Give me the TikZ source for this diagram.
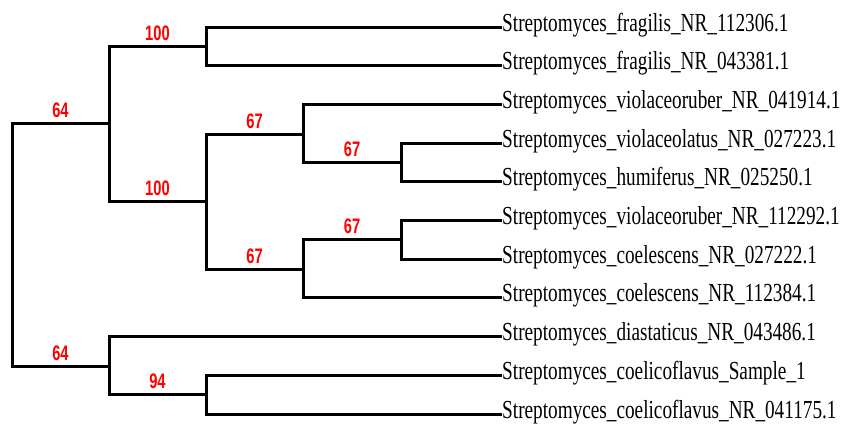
\documentclass[tikz,border=0pt]{standalone}
\usepackage{fontspec}
\newfontfamily\leaffont[FakeStretch=0.74]{Liberation Serif}
\newfontfamily\lblfont[FakeStretch=0.70]{Liberation Sans}
\begin{document}
\begin{tikzpicture}[x=1pt,y=-1pt,
  branch/.style={line width=3pt, line join=miter, line cap=rect, black},
  lbl/.style={font=\lblfont\bfseries\fontsize{21}{21}\selectfont, text=red, inner sep=0pt, anchor=base, yshift=6pt},
  leaf/.style={font=\leaffont\fontsize{26}{26}\selectfont, inner sep=0pt, anchor=base west}]
\useasboundingbox (0,0) rectangle (846,426);
% internal nodes
\coordinate (R)  at (12,244.75);
\coordinate (A)  at (109,123.5);
\coordinate (B)  at (109,366);
\coordinate (A1) at (206,46.35);
\coordinate (A2) at (206,201.5);
\coordinate (Aa) at (303,134);
\coordinate (Ab) at (303,269);
\coordinate (N45) at (401,162.45);
\coordinate (N67) at (401,239.85);
\coordinate (N1011) at (206,394.65);
% leaves
\foreach \i/\t in {1/Streptomyces\_fragilis\_NR\_112306.1,
                   2/Streptomyces\_fragilis\_NR\_043381.1,
                   3/Streptomyces\_violaceoruber\_NR\_041914.1,
                   4/Streptomyces\_violaceolatus\_NR\_027223.1,
                   5/Streptomyces\_humiferus\_NR\_025250.1,
                   6/Streptomyces\_violaceoruber\_NR\_112292.1,
                   7/Streptomyces\_coelescens\_NR\_027222.1,
                   8/Streptomyces\_coelescens\_NR\_112384.1,
                   9/Streptomyces\_diastaticus\_NR\_043486.1,
                   10/Streptomyces\_coelicoflavus\_Sample\_1,
                   11/Streptomyces\_coelicoflavus\_NR\_041175.1}{
  \coordinate (L\i) at (500,{27+38.7*(\i-1)});
  \node[leaf] (T\i) at ([xshift=2pt,yshift=-4pt]L\i) {\t};
}
% branches
\draw[branch] (R) |- node[lbl,pos=0.75] {64} (A);
\draw[branch] (R) |- node[lbl,pos=0.75] {64} (B);
\draw[branch] (A) |- node[lbl,pos=0.75] {100} (A1);
\draw[branch] (A) |- node[lbl,pos=0.75] {100} (A2);
\draw[branch] (A1) |- (L1);
\draw[branch] (A1) |- (L2);
\draw[branch] (A2) |- node[lbl,pos=0.75] {67} (Aa);
\draw[branch] (A2) |- node[lbl,pos=0.75] {67} (Ab);
\draw[branch] (Aa) |- (L3);
\draw[branch] (Aa) |- node[lbl,pos=0.75] {67} (N45);
\draw[branch] (N45) |- (L4);
\draw[branch] (N45) |- (L5);
\draw[branch] (Ab) |- node[lbl,pos=0.75] {67} (N67);
\draw[branch] (Ab) |- (L8);
\draw[branch] (N67) |- (L6);
\draw[branch] (N67) |- (L7);
\draw[branch] (B) |- (L9);
\draw[branch] (B) |- node[lbl,pos=0.75] {94} (N1011);
\draw[branch] (N1011) |- (L10);
\draw[branch] (N1011) |- (L11);
\end{tikzpicture}
\end{document}
